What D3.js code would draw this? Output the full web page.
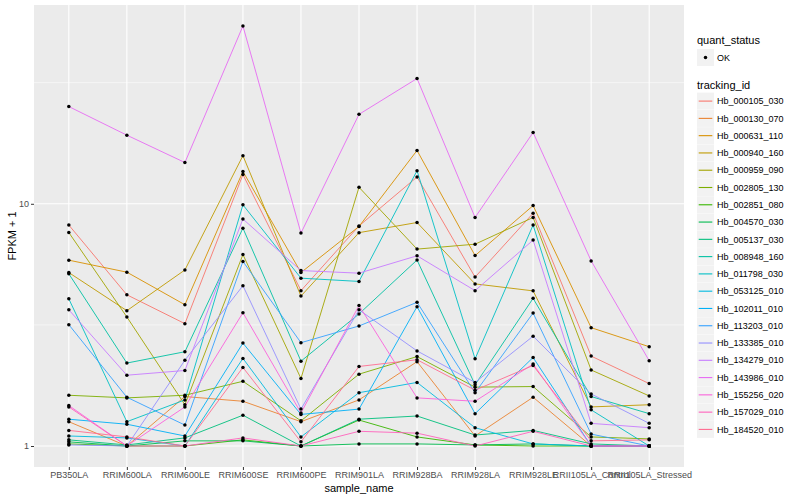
<!DOCTYPE html>
<html><head><meta charset="utf-8">
<script src="https://cdn.jsdelivr.net/npm/d3@7"></script>
<style>body{margin:0;background:#fff}svg{display:block}text{font-family:"Liberation Sans",Arial,Helvetica,sans-serif}</style>
</head><body>
<svg id="c" width="800" height="500"></svg>
<script>
const samples = ["PB350LA","RRIM600LA","RRIM600LE","RRIM600SE","RRIM600PE","RRIM901LA","RRIM928BA","RRIM928LA","RRIM928LE","RRII105LA_Control","RRII105LA_Stressed"];
const trackingIds = ["Hb_000105_030","Hb_000130_070","Hb_000631_110","Hb_000940_160","Hb_000959_090","Hb_002805_130","Hb_002851_080","Hb_004570_030","Hb_005137_030","Hb_008948_160","Hb_011798_030","Hb_053125_010","Hb_102011_010","Hb_113203_010","Hb_133385_010","Hb_134279_010","Hb_143986_010","Hb_155256_020","Hb_157029_010","Hb_184520_010"];
const colors = ["#F8766D","#EA8331","#D89000","#C09B00","#A3A500","#7CAE00","#39B600","#00BB4E","#00BF7D","#00C1A3","#00BFC4","#00BAE0","#00B0F6","#35A2FF","#9590FF","#C77CFF","#E76BF3","#FA62DB","#FF62BC","#FF6C91"];
// FPKM + 1 per tracking id, in sample order
const v000105_030 = [8.17,4.21,3.20,13.2,4.38,8.1,12.9,4.98,9.14,2.35,1.81];
const v000130_070 = [1.26,1.0,1.60,1.53,1.26,1.55,2.23,1.10,1.59,1.0,1.0];
const v000631_110 = [5.85,5.22,3.83,13.6,5.20,8.06,16.6,6.11,9.83,3.08,2.57];
const v000940_160 = [5.20,3.62,5.33,15.8,4.16,7.6,8.37,4.67,4.37,1.45,1.48];
const v000959_090 = [7.61,3.41,1.48,6.17,1.90,11.7,6.5,6.81,8.78,2.06,1.61];
const v002805_130 = [1.62,1.58,1.62,1.85,1.27,1.98,2.34,1.75,1.76,1.09,1.07];
const v002851_080 = [1.02,1.0,1.0,1.06,1.0,1.28,1.09,1.01,1.0,1.0,1.0];
const v004570_030 = [1.04,1.0,1.05,1.05,1.0,1.02,1.02,1.01,1.02,1.0,1.0];
const v005137_030 = [1.06,1.01,1.08,1.34,1.0,1.29,1.33,1.11,1.16,1.02,1.0];
const v008948_160 = [5.14,2.20,2.45,7.93,2.24,3.51,5.86,1.79,4.07,1.60,1.36];
const v011798_030 = [4.05,1.26,1.55,9.9,4.93,4.78,13.7,2.29,8.17,1.41,1.0];
const v053125_010 = [1.10,1.08,1.0,2.30,1.09,1.66,1.83,1.19,1.02,1.0,1.0];
const v102011_010 = [1.29,1.23,1.10,2.66,1.35,1.42,3.76,1.36,2.32,1.0,1.0];
const v113203_010 = [3.17,1.59,1.22,5.78,2.67,3.13,3.92,1.66,3.54,1.12,1.0];
const v133385_010 = [1.01,1.0,2.26,4.59,1.42,3.65,2.47,1.83,2.84,1.64,1.24];
const v134279_010 = [3.65,1.96,2.05,8.65,5.30,5.17,6.1,4.38,7.08,1.24,1.19];
const v143986_010 = [25.2,19.2,14.8,54.2,7.57,23.4,32.9,8.78,19.7,5.81,2.25];
const v155256_020 = [1.47,1.0,1.45,3.55,1.37,3.80,1.58,1.53,2.18,1.0,1.0];
const v157029_010 = [1.45,1.0,1.0,1.08,1.0,1.15,1.13,1.0,1.15,1.0,1.0];
const v184520_010 = [1.16,1.09,1.0,2.11,1.04,2.13,2.27,1.70,2.15,1.05,1.06];
const yTicks = [1, 10];
const yTickLabels = ["1", "10"];
const yMinor = [Math.sqrt(10), Math.sqrt(1000)];

const valueLists = [v000105_030,v000130_070,v000631_110,v000940_160,v000959_090,v002805_130,v002851_080,v004570_030,v005137_030,v008948_160,v011798_030,v053125_010,v102011_010,v113203_010,v133385_010,v134279_010,v143986_010,v155256_020,v157029_010,v184520_010];
const series = trackingIds.map((id,i)=>({id, color: colors[i], values: valueLists[i].map((v,j)=>({s: samples[j], v}))}));

const svg = d3.select("#c");
const L = 34, R = 684, T = 5, B = 467;
const x = d3.scalePoint().domain(samples).range([L, R]).padding(0.6);
const all = valueLists.flat();
const lmin = Math.log10(d3.min(all)), lmax = Math.log10(d3.max(all));
const ex = (lmax - lmin) * 0.05;
const y = d3.scaleLog().domain([Math.pow(10, lmin - ex), Math.pow(10, lmax + ex)]).range([B, T]);

svg.append("rect").attr("x", L).attr("y", T).attr("width", R-L).attr("height", B-T).attr("fill", "#EBEBEB");
const g = svg.append("g");
g.selectAll(".ymin").data(yMinor).join("line").attr("x1", L).attr("x2", R).attr("y1", d=>y(d)).attr("y2", d=>y(d)).attr("stroke", "#fff").attr("stroke-width", 0.55);
g.selectAll(".ymaj").data(yTicks).join("line").attr("x1", L).attr("x2", R).attr("y1", d=>y(d)).attr("y2", d=>y(d)).attr("stroke", "#fff").attr("stroke-width", 1.1);
g.selectAll(".xmaj").data(samples).join("line").attr("x1", d=>x(d)).attr("x2", d=>x(d)).attr("y1", T).attr("y2", B).attr("stroke", "#fff").attr("stroke-width", 1.1);

const line = d3.line().x(d=>x(d.s)).y(d=>y(d.v));
svg.append("g").selectAll("path").data(series).join("path").attr("d", d=>line(d.values)).attr("fill","none").attr("stroke", d=>d.color).attr("stroke-width", 0.9);
svg.append("g").selectAll("g").data(series).join("g").selectAll("circle").data(d=>d.values).join("circle").attr("cx", d=>x(d.s)).attr("cy", d=>y(d.v)).attr("r", 1.75).attr("fill", "#000");

// axes
const yAxis = d3.axisLeft(y).tickValues(yTicks).tickFormat((d,i)=>yTickLabels[i]).tickSize(3).tickPadding(2);
const ya = svg.append("g").attr("transform", `translate(${L},0)`).call(yAxis);
ya.select(".domain").remove();
ya.selectAll(".tick line").attr("stroke", "#333");
ya.selectAll(".tick text").attr("fill", "#4D4D4D").style("font-size", "9px");
const xAxis = d3.axisBottom(x).tickSize(3).tickPadding(2);
const xa = svg.append("g").attr("transform", `translate(0,${B})`).call(xAxis);
xa.select(".domain").remove();
xa.selectAll(".tick line").attr("stroke", "#333");
xa.selectAll(".tick text").attr("fill", "#4D4D4D").style("font-size", "9px");

svg.append("text").attr("x", (L+R)/2).attr("y", 492).attr("text-anchor", "middle").style("font-size", "11px").attr("fill", "#000").text("sample_name");
svg.append("text").attr("transform", `translate(16,${(T+B)/2}) rotate(-90)`).attr("text-anchor", "middle").style("font-size", "11px").attr("fill", "#000").text("FPKM + 1");

// legends
const lx = 697;
svg.append("text").attr("x", lx).attr("y", 44).style("font-size", "11px").attr("fill", "#000").text("quant_status");
svg.append("rect").attr("x", lx).attr("y", 49).attr("width", 17).attr("height", 17).attr("fill", "#F2F2F2");
svg.append("circle").attr("cx", lx+8.5).attr("cy", 57.5).attr("r", 1.75).attr("fill", "#000");
svg.append("text").attr("x", lx+20).attr("y", 60.7).style("font-size", "9px").attr("fill", "#000").text("OK");

svg.append("text").attr("x", lx).attr("y", 88.5).style("font-size", "11px").attr("fill", "#000").text("tracking_id");
const key = svg.append("g").selectAll("g").data(series).join("g").attr("transform", (d,i)=>`translate(${lx},${92.6 + i*17.28})`);
key.append("rect").attr("width", 17).attr("height", 17).attr("fill", "#F2F2F2");
key.append("line").attr("x1", 1.7).attr("x2", 15.3).attr("y1", 8.5).attr("y2", 8.5).attr("stroke", d=>d.color).attr("stroke-width", 1.1);
key.append("text").attr("x", 20).attr("y", 11.7).style("font-size", "9px").attr("fill", "#000").text(d=>d.id);
</script>
</body></html>
